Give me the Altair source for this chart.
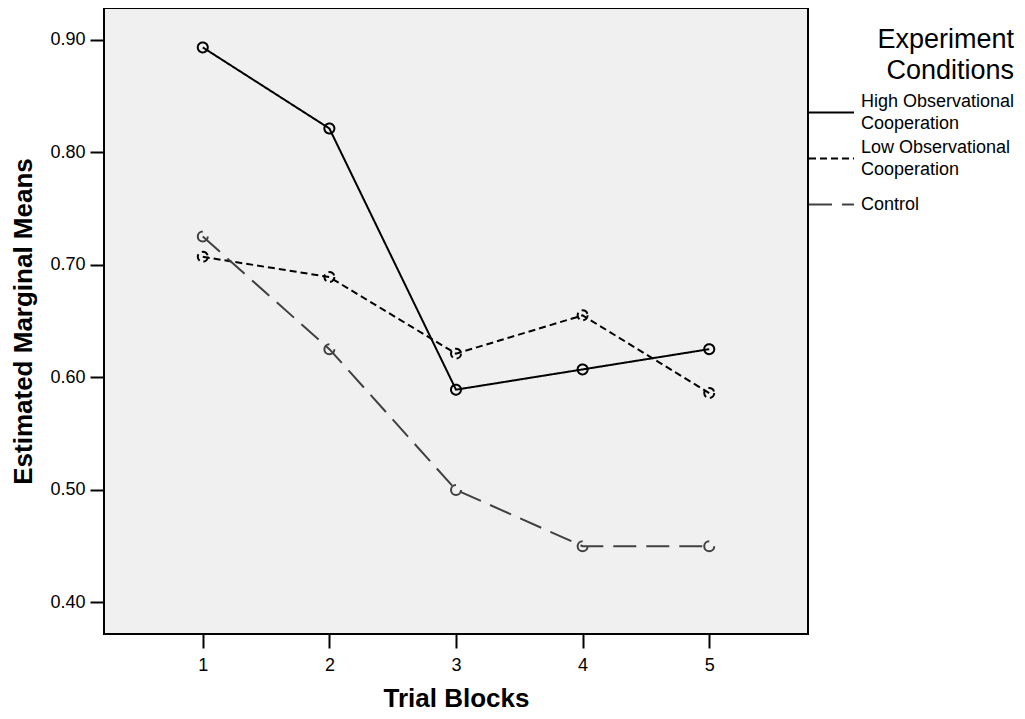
import altair as alt
import pandas as pd

blocks = [1, 2, 3, 4, 5]
conditions = ["High Observational Cooperation", "Low Observational Cooperation", "Control"]
high_vals = [0.893, 0.821, 0.589, 0.607, 0.625]
low_vals = [0.707, 0.689, 0.621, 0.655, 0.586]
control_vals = [0.725, 0.625, 0.500, 0.450, 0.450]
y_ticks = [0.40, 0.50, 0.60, 0.70, 0.80, 0.90]

rows = []
for cond, vals in zip(conditions, [high_vals, low_vals, control_vals]):
    for b, v in zip(blocks, vals):
        rows.append({"block": b, "mean": v, "cond": cond})
df = pd.DataFrame(rows)

FONT = "Liberation Sans"
colors = ["#000000", "#000000", "#404040"]
dashes = [[1, 0], [7, 4], [23, 10]]

xenc = alt.X("block:Q", scale=alt.Scale(domain=[0.22, 5.78], nice=False, zero=False),
             axis=alt.Axis(values=blocks, format="d", title="Trial Blocks",
                           titleY=64, titleBaseline="middle"))
yenc = alt.Y("mean:Q", scale=alt.Scale(domain=[0.372, 0.928], nice=False, zero=False),
             axis=alt.Axis(values=y_ticks, format=".2f", title="Estimated Marginal Means",
                           titleX=-81, titleBaseline="middle"))

legend = alt.Legend(
    title=["Experiment\u00a0\u00a0", "Conditions\u00a0\u00a0"],
    orient="none", legendX=704, legendY=19,
    symbolType="stroke", symbolSize=2025, symbolStrokeWidth=2,
    labelExpr="split(replace(datum.label, ' Cooperation', '|Cooperation'), '|')",
    labelFontSize=18, labelFont=FONT, labelColor="#000000", labelOffset=6,
    labelBaseline=alt.ExprRef(expr="datum.label == 'Control' ? 'middle' : 'line-bottom'"),
    labelLimit=300,
    titleFontSize=27, titleFont=FONT, titleFontWeight="normal", titleColor="#000000",
    titleAlign="right", titleAnchor="end", titleLineHeight=31, titlePadding=4,
    rowPadding=2, padding=0,
)

color = alt.Color("cond:N", scale=alt.Scale(domain=conditions, range=colors), legend=legend)
dash = alt.StrokeDash("cond:N", scale=alt.Scale(domain=conditions, range=dashes), legend=legend)

lines = alt.Chart(df).mark_line(strokeWidth=2).encode(
    x=xenc, y=yenc, color=color, strokeDash=dash
)
points = alt.Chart(df).mark_point(shape="circle", filled=False, size=100, strokeWidth=2, opacity=1).encode(
    x=xenc, y=yenc,
    color=alt.Color("cond:N", scale=alt.Scale(domain=conditions, range=colors), legend=None),
    strokeDash=alt.StrokeDash("cond:N", scale=alt.Scale(domain=conditions, range=dashes), legend=None),
)

chart = alt.layer(lines, points).properties(
    width=704, height=626,
    autosize=alt.AutoSizeParams(type="none"),
    padding={"left": 96, "top": 0, "right": 209, "bottom": 77},
    background="#ffffff",
).configure(
    style={"guide-label": {"lineHeight": 22}}
).configure_view(
    fill="#f0f0f0", stroke="#000000", strokeWidth=2
).configure_axis(
    domain=False, grid=False, ticks=True, tickSize=14, tickWidth=2, tickColor="#000000",
    labelFont=FONT, labelFontSize=18, labelColor="#000000",
    titleFont=FONT, titleFontSize=26, titleFontWeight="bold", titleColor="#000000",
).configure_axisX(labelPadding=8).configure_axisY(labelPadding=5)

chart.save("out.html", embed_options={"renderer": "svg", "actions": False})
